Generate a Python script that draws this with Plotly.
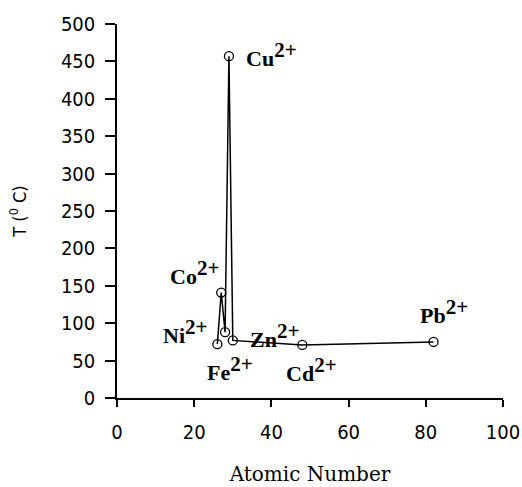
import plotly.graph_objects as go

# Thermal stability of metal complexes vs. atomic number of the metal ion
ions = ["Fe", "Co", "Ni", "Cu", "Zn", "Cd", "Pb"]
atomic_number = [26, 27, 28, 29, 30, 48, 82]
temperature = [72, 141, 88, 457, 77, 71, 75]

# label centre offsets in pixels (right, down) from the point they annotate
label_anchor = {
    "Fe": (26, 13, 24),
    "Co": (27, -27, -20),
    "Ni": (26, -32, -13),
    "Cu": (29, 43, -2),
    "Zn": (30, 42, -5),
    "Cd": (48, 9, 25),
    "Pb": (82, 10, -30),
}

fig = go.Figure()
fig.add_trace(go.Scatter(
    x=atomic_number, y=temperature, mode="lines+markers",
    line=dict(color="black", width=1.5),
    marker=dict(symbol="circle-open", size=9, color="black", line=dict(width=1.3)),
    showlegend=False, hoverinfo="skip",
))

temp_of = dict(zip(atomic_number, temperature))
for ion in ions:
    z, dx, dy = label_anchor[ion]
    fig.add_annotation(
        x=z, y=temp_of[z], xref="x", yref="y", showarrow=False,
        text=f"<b>{ion}<sup><span style='font-size:21px'>2+</span></sup></b>",
        xshift=dx, yshift=-dy, xanchor="center", yanchor="middle",
        font=dict(family="Liberation Serif", size=22, color="black"),
    )

tick_font = dict(family="DejaVu Sans Condensed, sans-serif", size=20, color="black")

fig.update_layout(
    width=522, height=487,
    margin=dict(l=117, r=19, t=24, b=89),
    paper_bgcolor="white", plot_bgcolor="white",
    xaxis=dict(
        range=[0, 100], dtick=20, showgrid=False, zeroline=False,
        showline=True, linecolor="black", linewidth=1.5, automargin=False,
        ticks="outside", ticklen=7, tickcolor="black", tickwidth=1.5,
        tickfont=tick_font, ticklabelstandoff=8,
        title=dict(text="Atomic Number",
                   font=dict(family="DejaVu Serif", size=20, color="black"), standoff=24),
    ),
    yaxis=dict(
        range=[0, 500], dtick=50, showgrid=False, zeroline=False,
        showline=True, linecolor="black", linewidth=1.5, automargin=False,
        ticks="outside", ticklen=10, tickcolor="black", tickwidth=1.5,
        tickfont=tick_font, ticklabelstandoff=6,
        title=dict(text="T (<sup>0</sup> C)",
                   font=dict(family="DejaVu Sans Condensed, sans-serif", size=18, color="black"),
                   standoff=30),
    ),
)

fig.write_html("out.html")
